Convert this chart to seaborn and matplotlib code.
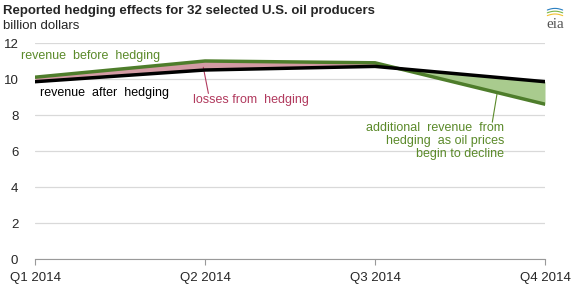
import numpy as np
import pandas as pd
import matplotlib
matplotlib.use("Agg")
import matplotlib.pyplot as plt
import seaborn as sns

# values (billion dollars)
quarters = ["Q1 2014", "Q2 2014", "Q3 2014", "Q4 2014"]
before_hedging = [10.1, 11.0, 10.9, 8.6]
after_hedging = [9.85, 10.5, 10.7, 9.85]
yticks = [0, 2, 4, 6, 8, 10, 12]

df = pd.DataFrame({
    "x": list(range(len(quarters))) * 2,
    "value": before_hedging + after_hedging,
    "series": ["before"] * len(quarters) + ["after"] * len(quarters),
})

sns.set_style("white")
plt.rcParams["font.family"] = ["Liberation Sans", "DejaVu Sans"]

fig = plt.figure(figsize=(5.75, 2.9), dpi=100)
ax = fig.add_axes([35 / 575, 1 - 259 / 290, 510 / 575, 216 / 290])

green = "#4e7d2b"
x = np.arange(len(quarters))
b = np.array(before_hedging)
a = np.array(after_hedging)

# shaded gaps
ax.fill_between(x, a, b, where=b >= a, interpolate=True, color="#d39aa3", lw=0, zorder=1)
ax.fill_between(x, a, b, where=a >= b, interpolate=True, color="#a9cb8e", lw=0, zorder=1)

sns.lineplot(data=df, x="x", y="value", hue="series",
             palette={"before": green, "after": "black"},
             linewidth=2.5, legend=False, ax=ax, zorder=3)

ax.set_xlim(0, len(quarters) - 1)
ax.set_ylim(0, 12)
ax.set_yticks(yticks)
ax.set_yticklabels([str(t) for t in yticks], fontsize=9.5)
ax.set_xticks(x)
ax.set_xticklabels(quarters, fontsize=9.5)
ax.set_xlabel("")
ax.set_ylabel("")
ax.grid(axis="y", color="#d9d9d9", lw=0.9)
ax.set_axisbelow(True)
for s in ["left", "right", "top"]:
    ax.spines[s].set_visible(False)
ax.spines["bottom"].set_color("#999999")
ax.tick_params(axis="x", length=4, color="#999999", pad=5, direction="out", bottom=True)
ax.tick_params(axis="y", length=0, pad=12)

# annotations
ax.text(-0.08, 11.3, "revenue  before  hedging", color="#5b8a2a", fontsize=9, va="center")
ax.text(0.03, 9.2, "revenue  after  hedging", color="black", fontsize=9, va="center")
ax.text(0.93, 8.85, "losses from  hedging", color="#b13a5e", fontsize=9, va="center")
ax.plot([0.99, 1.02], [10.65, 9.2], color="#b13a5e", lw=0.8)
ax.text(2.76, 7.6, "additional  revenue  from\nhedging  as oil prices\nbegin to decline",
        color="#5b8a2a", fontsize=9, ha="right", va="top", linespacing=1.1)
ax.plot([2.72, 2.69], [9.3, 7.6], color="#5b8a2a", lw=0.8)

# title block
fig.text(3 / 575, 1 - 11 / 290, "Reported hedging effects for 32 selected U.S. oil producers",
         fontsize=9.5, fontweight="bold", va="center")
fig.text(3 / 575, 1 - 26 / 290, "billion dollars", fontsize=9.5, va="center")

# eia mark
fig.text(555 / 575, 1 - 25 / 290, "eia", family="Liberation Serif", fontsize=11,
         color="#555555", ha="center", va="center")
t = np.linspace(0.15, 0.85, 20)
for col, off in [("#f2c12e", 0), ("#7ab648", 2), ("#2a7fc1", 4)]:
    px = (544 + 22 * t) / 575
    py = 1 - (17 - off * 0.4 - 6 * np.sin(np.pi * t) * 0.5 - off) / 290
    fig.add_artist(plt.Line2D(px, py, color=col, lw=0.8))

fig.savefig("out.png", dpi=100)
